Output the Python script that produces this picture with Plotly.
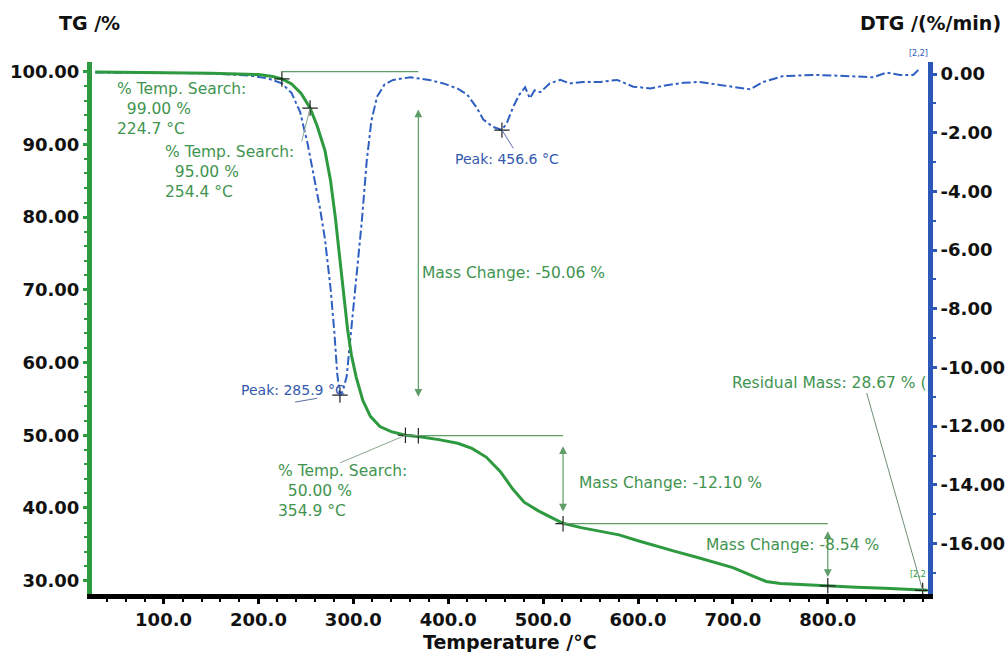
import plotly.graph_objects as go

# ---------------- data ----------------
tg_temp = [28, 100, 150, 200, 215, 224.7, 235, 245, 254.4, 262, 270, 276, 281, 286, 290,
           294, 298, 303, 310, 318, 328, 340, 354.9, 370, 390, 410, 425, 440, 455, 468,
           480, 495, 510, 521, 540, 560, 580, 600, 620, 640, 660, 680, 700, 720, 735,
           750, 770, 800, 830, 860, 905]
tg_mass = [99.95, 99.9, 99.8, 99.6, 99.35, 99.0, 98.3, 97.0, 95.0, 92.5, 89.2, 85.0, 80.0,
           74.0, 69.0, 64.5, 61.0, 58.0, 54.8, 52.6, 51.2, 50.5, 50.0, 49.8, 49.4, 48.9,
           48.2, 47.0, 45.0, 42.6, 40.8, 39.6, 38.6, 37.9, 37.3, 36.8, 36.3, 35.5, 34.7,
           34.0, 33.3, 32.6, 31.8, 30.7, 29.9, 29.6, 29.45, 29.3, 29.1, 28.95, 28.7]

dtg_temp = [28, 60, 100, 150, 190, 210, 224.7, 235, 244, 252, 258, 265, 270, 276, 280, 283,
            285.9, 289, 293, 297, 300, 304, 309, 314, 319, 325, 333, 342, 360, 380, 395,
            410, 420, 430, 437, 447, 456.6, 462, 468.6, 475, 481, 486, 491, 497, 507, 518,
            528, 542, 560, 578, 595, 613, 630, 648, 665, 686, 705, 718, 732, 753, 770, 788,
            805, 824, 848, 862, 876, 890, 897]
dtg_rate = [0.05, 0.05, 0.04, 0.02, -0.05, -0.15, -0.32, -0.65, -1.3, -2.4, -3.4, -4.6, -5.6,
            -7.3, -8.8, -10.2, -10.94, -10.8, -10.3, -9.0, -8.0, -6.6, -5.0, -3.0, -1.6,
            -0.77, -0.35, -0.2, -0.11, -0.2, -0.32, -0.5, -0.7, -1.15, -1.55, -1.8, -1.91,
            -1.65, -1.11, -0.7, -0.45, -0.83, -0.55, -0.62, -0.32, -0.2, -0.32, -0.27, -0.27,
            -0.2, -0.43, -0.49, -0.38, -0.3, -0.27, -0.37, -0.45, -0.52, -0.27, -0.07, -0.05,
            -0.03, -0.05, -0.07, -0.11, 0.05, -0.03, -0.03, 0.19]

# "% Temp. Search" points and other TG markers
search_temp = [224.7, 254.4, 354.9]
search_mass = [99.00, 95.00, 50.00]
tg_mark_temp = [368.5, 521.0, 800.0, 900.0]
tg_mark_mass = [49.94, 37.84, 29.30, 28.67]

# DTG peaks
peak_temp = [285.9, 456.6]
peak_rate = [-10.94, -1.91]

# Mass change steps
mc_temp = [368.5, 521.0, 800.0]
mc_level_from = [100.0, 49.94, 37.84]
mc_level_left = [224.7, 354.9, 521.0]
mc_arrow_top = [95.0, 48.7, 37.0]
mc_arrow_bottom = [55.3, 39.5, 30.5]
mc_text = ["Mass Change: -50.06 %", "Mass Change: -12.10 %", "Mass Change: -8.54 %"]

x_ticks = [100, 200, 300, 400, 500, 600, 700, 800]
tg_ticks = [30, 40, 50, 60, 70, 80, 90, 100]
dtg_ticks = [0, -2, -4, -6, -8, -10, -12, -14, -16]

# ---------------- style ----------------
GREEN = "#2e9a40"
GREEN_TXT = "#3f9450"
GREEN_THIN = "#5f9c68"
BLUE = "#2b57b8"
BLUE_TXT = "#3459ad"
FONT = "DejaVu Sans"

fig = go.Figure()

fig.add_trace(go.Scatter(x=dtg_temp, y=dtg_rate, mode="lines", yaxis="y",
                         line=dict(color="#2f5fc0", width=2, dash="dashdot"),
                         showlegend=False, hoverinfo="skip"))
fig.add_trace(go.Scatter(x=peak_temp, y=peak_rate, mode="markers", yaxis="y",
                         marker=dict(symbol="cross-thin", size=11,
                                     line=dict(color="#222", width=1.2)),
                         showlegend=False, hoverinfo="skip"))

fig.add_trace(go.Scatter(x=tg_temp, y=tg_mass, mode="lines", yaxis="y2",
                         line=dict(color=GREEN, width=3),
                         showlegend=False, hoverinfo="skip"))
fig.add_trace(go.Scatter(x=search_temp + tg_mark_temp, y=search_mass + tg_mark_mass,
                         mode="markers", yaxis="y2",
                         marker=dict(symbol="cross-thin", size=11,
                                     line=dict(color="#222", width=1.2)),
                         showlegend=False, hoverinfo="skip"))

# horizontal reference lines for mass-change steps
for x0, x1, lv in zip(mc_level_left, mc_temp, mc_level_from):
    fig.add_shape(type="line", xref="x", yref="y2", x0=x0, x1=x1, y0=lv, y1=lv,
                  line=dict(color=GREEN_THIN, width=1.2))

annotations = []
# double-headed arrows
for t, top, bot in zip(mc_temp, mc_arrow_top, mc_arrow_bottom):
    annotations.append(dict(x=t, y=bot, ax=t, ay=top, xref="x", yref="y2",
                            axref="x", ayref="y2", text="", showarrow=True,
                            arrowside="end+start", arrowhead=2, startarrowhead=2,
                            arrowsize=1.3, startarrowsize=1.3, arrowwidth=1.2,
                            arrowcolor=GREEN_THIN))

# mass change labels
mc_label_pos = [(370.3, 72.3), (535.4, 43.4), (669.6, 34.9)]
for (lx, ly), txt in zip(mc_label_pos, mc_text):
    annotations.append(dict(x=lx, y=ly, xref="x", yref="y2", text=txt, showarrow=False,
                            xanchor="left", yanchor="middle",
                            font=dict(family=FONT, size=15.5, color=GREEN_TXT)))

# % Temp. Search labels
search_label_pos = [(48.9, 94.9), (99.2, 86.25), (218.6, 42.3)]
for (lx, ly), t, m in zip(search_label_pos, search_temp, search_mass):
    txt = f"% Temp. Search:<br>\u00a0\u00a0{m:.2f} %<br>{t:.1f} °C"
    annotations.append(dict(x=lx, y=ly, xref="x", yref="y2", text=txt, showarrow=False,
                            xanchor="left", yanchor="middle", align="left",
                            font=dict(family=FONT, size=15.5, color=GREEN_TXT)))

# residual mass label
annotations.append(dict(x=696.9, y=57.15, xref="x", yref="y2",
                        text="Residual Mass: 28.67 % (", showarrow=False,
                        xanchor="left", yanchor="middle",
                        font=dict(family=FONT, size=15.5, color=GREEN_TXT)))

# peak labels
peak_label_pos = [(179.9, -10.77), (405.4, -2.91)]
for (lx, ly), t in zip(peak_label_pos, peak_temp):
    annotations.append(dict(x=lx, y=ly, xref="x", yref="y", text=f"Peak: {t:.1f} °C",
                            showarrow=False, xanchor="left", yanchor="middle",
                            font=dict(family=FONT, size=14, color=BLUE_TXT)))

# connector lines
fig.add_shape(type="line", xref="x", yref="y2", x0=245.6, y0=90.4,
              x1=search_temp[1], y1=search_mass[1], line=dict(color="#8aa88e", width=1))
fig.add_shape(type="line", xref="x", yref="y2", x0=286.0, y0=46.2,
              x1=search_temp[2], y1=search_mass[2], line=dict(color="#8aa88e", width=1))
fig.add_shape(type="line", xref="x", yref="y2", x0=841.0, y0=55.8,
              x1=tg_mark_temp[3], y1=tg_mark_mass[3], line=dict(color="#6f8f74", width=1))
fig.add_shape(type="line", xref="x", yref="y", x0=238.6, y0=-11.18,
              x1=262.0, y1=-11.05, line=dict(color="#5a6fa8", width=1))
fig.add_shape(type="line", xref="x", yref="y", x0=468.6, y0=-2.53,
              x1=peak_temp[1], y1=peak_rate[1], line=dict(color="#5a6fa8", width=1))

# axis titles
annotations += [
    dict(x=-0.0024, y=1.0733, xref="paper", yref="paper", text="TG /%", showarrow=False,
         xanchor="center", yanchor="middle",
         font=dict(family=FONT, size=19, color="#111", weight="bold")),
    dict(x=1.0028, y=1.0733, xref="paper", yref="paper", text="DTG /(%/min)",
         showarrow=False, xanchor="center", yanchor="middle",
         font=dict(family=FONT, size=19, color="#111", weight="bold")),
    dict(x=0.5002, y=-0.0897, xref="paper", yref="paper", text="Temperature /°C",
         showarrow=False, xanchor="center", yanchor="middle",
         font=dict(family=FONT, size=19, color="#111", weight="bold")),
    dict(x=1.0024, y=1.004, xref="paper", yref="paper", text="[2,2]", showarrow=False,
         xanchor="right", yanchor="bottom", font=dict(family=FONT, size=8, color=BLUE)),
    dict(x=1.0, y=0.036, xref="paper", yref="paper", text="[2,2", showarrow=False,
         xanchor="right", yanchor="middle", font=dict(family=FONT, size=8, color=GREEN)),
]

tickfont = dict(family=FONT, size=18, color="#111", weight="bold")

fig.update_layout(
    width=1006, height=652, autosize=False,
    margin=dict(l=92, r=78, t=62, b=58, autoexpand=False),
    paper_bgcolor="white", plot_bgcolor="white",
    showlegend=False,
    xaxis=dict(range=[24.6, 905.6], showgrid=False, zeroline=False, automargin=False,
               showline=True, linecolor="#000", linewidth=5,
               ticks="outside", ticklen=5, tickwidth=3, tickcolor="#000",
               tickvals=x_ticks, ticktext=[f"{v:.1f}" for v in x_ticks],
               tickfont=tickfont,
               minor=dict(dtick=20, tick0=0, ticks="outside", ticklen=3, tickwidth=2,
                          tickcolor="#000", showgrid=False)),
    yaxis=dict(range=[-17.72, 0.41], side="right", showgrid=False, zeroline=False,
               automargin=False,
               showline=True, linecolor=BLUE, linewidth=5,
               ticks="outside", ticklen=4, tickwidth=3, tickcolor=BLUE,
               tickvals=dtg_ticks, ticktext=[f"{v:.2f}" for v in dtg_ticks],
               tickfont=tickfont,
               minor=dict(dtick=1, tick0=0, ticks="outside", ticklen=3, tickwidth=2,
                          tickcolor=BLUE, showgrid=False)),
    yaxis2=dict(range=[28.17, 101.33], side="left", overlaying="y", showgrid=False,
                zeroline=False, automargin=False, showline=True, linecolor=GREEN,
                linewidth=5,
                ticks="outside", ticklen=4, tickwidth=3, tickcolor=GREEN,
                tickvals=tg_ticks, ticktext=[f"{v:.2f}" for v in tg_ticks],
                tickfont=tickfont,
                minor=dict(dtick=2, tick0=0, ticks="outside", ticklen=3, tickwidth=2,
                           tickcolor=GREEN, showgrid=False)),
    annotations=annotations,
)

fig.write_html("out.html", config={"displayModeBar": False},
               post_script="document.body.style.margin='0px';"
                           "document.body.style.overflow='hidden';")
